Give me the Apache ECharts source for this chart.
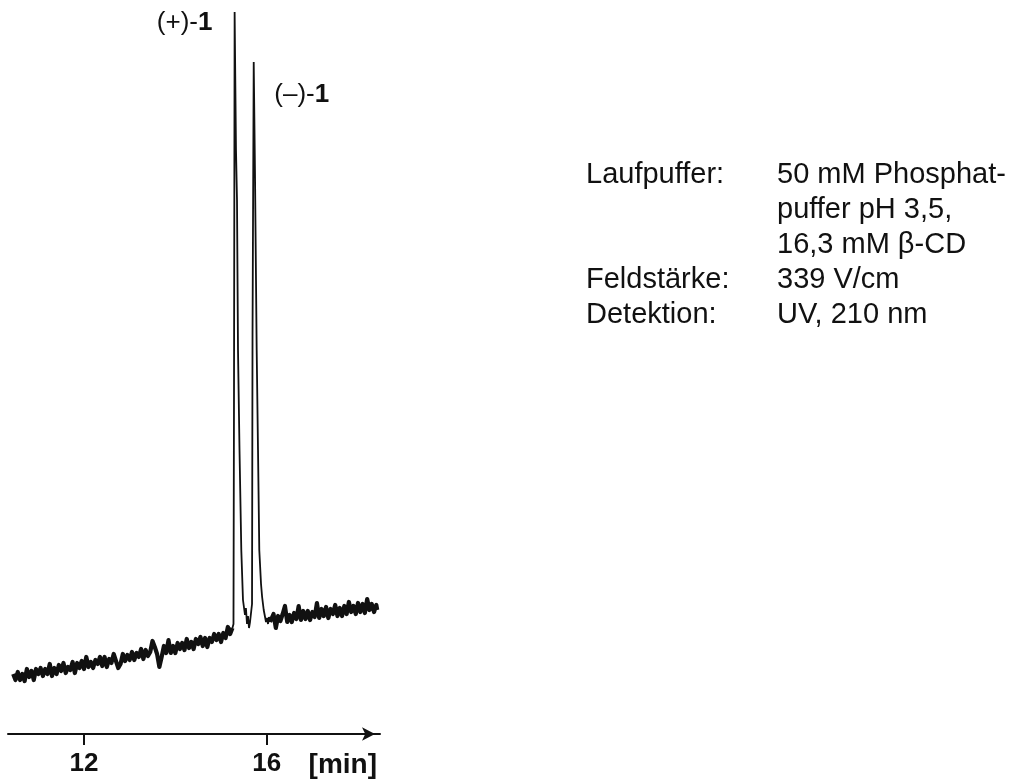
<!DOCTYPE html>
<html>
<head>
<meta charset="utf-8">
<script src="https://cdn.jsdelivr.net/npm/echarts@6/dist/echarts.min.js"></script>
<style>
html,body{margin:0;padding:0;background:#fff;}
#chart{width:1023px;height:780px;}
</style>
</head>
<body>
<div id="chart"></div>
<script>
// ---- data (time in min, detector signal in arbitrary units) ----
const baselineBefore = [
[10.45,60],[10.50,54],[10.55,62],[10.60,54],[10.65,60],[10.70,53],[10.75,65],[10.80,57],[10.85,63],[10.90,54],
[10.95,65],[11.00,60],[11.05,66],[11.10,58],[11.15,65],[11.20,60],[11.25,70],[11.30,58],[11.35,66],[11.40,60],
[11.45,69],[11.50,63],[11.55,71],[11.60,61],[11.65,67],[11.70,64],[11.75,72],[11.80,61],[11.85,71],[11.90,66],
[11.95,73],[12.00,65],[12.05,77],[12.10,67],[12.15,72],[12.20,66],[12.25,74],[12.30,70],[12.35,77],[12.40,68],
[12.45,77],[12.50,67],[12.55,75],[12.60,71],[12.65,80],[12.70,73],[12.75,66],[12.80,70],[12.85,80],[12.90,73],
[12.95,79],[13.00,74],[13.05,82],[13.10,74],[13.15,81],[13.20,77],[13.25,85],[13.30,75],[13.35,84],[13.40,78],
[13.45,82],[13.50,93],[13.55,87],[13.60,80],[13.65,67],[13.70,77],[13.75,88],[13.80,81],[13.85,94],[13.90,81],
[13.95,88],[14.00,81],[14.05,91],[14.10,85],[14.15,91],[14.20,84],[14.25,95],[14.30,86],[14.35,92],[14.40,85],
[14.45,95],[14.50,90],[14.55,97],[14.60,88],[14.65,96],[14.70,87],[14.75,96],[14.80,92],[14.85,100],[14.90,94],
[14.95,100],[15.00,92],[15.05,101],[15.10,96],[15.15,107],[15.20,100],[15.25,106]
];
const peakRegion = [
[15.25,106],[15.273,110],[15.284,330],[15.298,722],[15.328,584],[15.350,534],[15.372,384],[15.405,284],[15.444,184],
[15.481,134],[15.525,119],[15.545,126],[15.569,110],[15.590,118],[15.613,106],[15.635,112],[15.657,110],
[15.679,130],[15.690,400],[15.716,672],[15.744,560],[15.766,454],[15.781,384],[15.810,284],[15.838,184],
[15.876,150],[15.900,137],[15.935,124],[15.960,118],[15.985,112],[16.010,116],[16.029,110],[16.050,117],[16.073,112]
];
const baselineAfter = [
[16.073,112],
[16.10,110],[16.15,120],[16.20,106],[16.25,118],[16.30,113],[16.35,120],[16.40,128],[16.45,112],[16.50,119],[16.55,112],
[16.60,121],[16.65,115],[16.70,128],[16.75,114],[16.80,123],[16.85,115],[16.90,123],[16.95,114],[17.00,122],[17.05,117],
[17.10,131],[17.15,116],[17.20,125],[17.25,118],[17.30,127],[17.35,116],[17.40,125],[17.45,120],[17.50,129],[17.55,118],
[17.60,126],[17.65,118],[17.70,128],[17.75,120],[17.80,132],[17.85,122],[17.90,128],[17.95,120],[18.00,131],[18.05,122],
[18.10,130],[18.15,121],[18.20,135],[18.25,124],[18.30,130],[18.35,122],[18.40,129],[18.42,124]
];
const tickValues = [12, 16];
const axisUnit = '[min]';
const peakLabels = [
  {name: '(+)-', bold: '1', coord: [15.298, 722]},
  {name: '(\u2013)-', bold: '1', coord: [15.716, 672]}
];
const infoKeys = ['Laufpuffer:', '', '', 'Feldst\u00e4rke:', 'Detektion:'];
const infoValues = ['50 mM Phosphat-', 'puffer pH 3,5,', '16,3 mM \u03b2-CD', '339 V/cm', 'UV, 210 nm'];

// ---- chart ----
const FONT = "'Liberation Sans', Arial, Helvetica, sans-serif";

const labelOffsets = [[-50, 11], [48, 33]];
const markData = peakLabels.map((p, i) => ({
  coord: p.coord,
  symbol: 'circle',
  symbolSize: 1,
  itemStyle: {color: 'rgba(0,0,0,0)'},
  label: {
    show: true,
    position: 'inside',
    offset: labelOffsets[i],
    formatter: '{n|' + p.name + '}{b|' + p.bold + '}',
    rich: {
      n: {fontFamily: FONT, fontSize: 26, color: '#111'},
      b: {fontFamily: FONT, fontSize: 26, fontWeight: 'bold', color: '#111'}
    }
  }
}));

const graphics = [];
infoKeys.forEach((k, i) => {
  if (k) graphics.push({type: 'text', left: 586, top: 160 + 35 * i,
    style: {text: k, font: '29px ' + FONT, fill: '#111'}});
});
infoValues.forEach((v, i) => {
  graphics.push({type: 'text', left: 777, top: 160 + 35 * i,
    style: {text: v, font: '29px ' + FONT, fill: '#111'}});
});

const lineBase = {type: 'line', showSymbol: false, symbol: 'none', sampling: null, silent: true};

const chart = echarts.init(document.getElementById('chart'), null, {renderer: 'canvas'});
chart.setOption({
  animation: false,
  backgroundColor: '#ffffff',
  grid: {left: 8, right: 643, top: 4, bottom: 46, containLabel: false},
  xAxis: {
    type: 'value',
    min: 10.336,
    max: 18.481,
    name: axisUnit,
    nameLocation: 'end',
    nameGap: -3,
    nameTextStyle: {fontFamily: FONT, fontSize: 28, fontWeight: 'bold', color: '#111',
      align: 'right', verticalAlign: 'top', padding: [17, 0, 0, 0]},
    axisLine: {show: true, symbol: ['none', 'arrow'], symbolSize: [10, 13], symbolOffset: [0, -5],
      lineStyle: {color: '#111', width: 2}},
    axisTick: {show: true, customValues: tickValues, length: 11, lineStyle: {color: '#111', width: 2}},
    axisLabel: {show: true, customValues: tickValues, fontFamily: FONT, fontSize: 26, fontWeight: 'bold',
      color: '#111', margin: 17},
    splitLine: {show: false}
  },
  yAxis: {type: 'value', show: false, min: 0, max: 730},
  series: [
    Object.assign({}, lineBase, {name: 'before', data: baselineBefore,
      lineStyle: {color: '#111', width: 4.2, join: 'round'}}),
    Object.assign({}, lineBase, {name: 'peaks', data: peakRegion,
      lineStyle: {color: '#111', width: 1.8},
      markPoint: {data: markData}}),
    Object.assign({}, lineBase, {name: 'after', data: baselineAfter,
      lineStyle: {color: '#111', width: 4.2, join: 'round'}})
  ],
  graphic: graphics
});
</script>
</body>
</html>
